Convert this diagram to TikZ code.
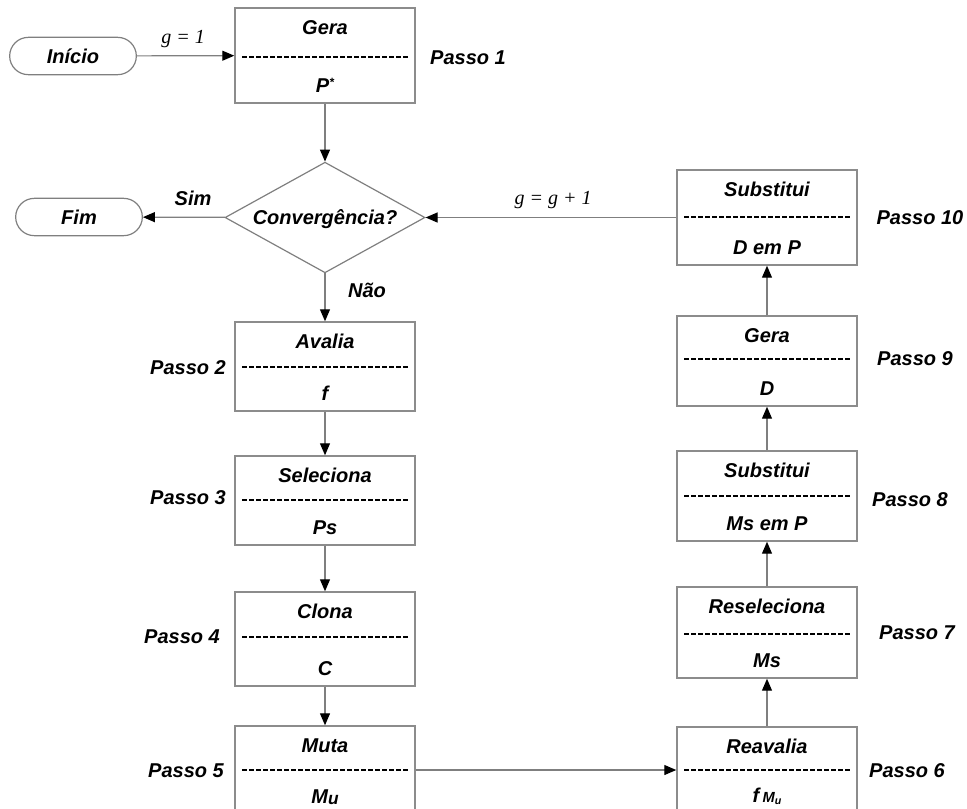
\documentclass[tikz,border=0pt]{standalone}
\usepackage{fontspec}
\setmainfont{Liberation Sans}
\newfontfamily\gserif{Liberation Serif}
\usetikzlibrary{arrows.meta,shapes.geometric}
\definecolor{linegray}{HTML}{7F7F7F}
\definecolor{boxgray}{HTML}{8C8C8C}
\tikzset{
 txt/.style={font=\fontsize{15}{17}\selectfont\bfseries\itshape, text=black, inner sep=0pt, text height=10.7pt, text depth=0pt},
 gtxt/.style={font=\fontsize{15}{17}\selectfont\gserif\itshape, text=black, inner sep=0pt, text height=7pt, text depth=0pt},
 box/.style={draw=boxgray, line width=1.1pt, minimum width=135pt, inner sep=0pt},
 term/.style={draw=linegray, line width=0.9pt, rounded corners=14pt, minimum width=95pt, minimum height=28pt, inner sep=0pt},
 dec/.style={draw=linegray, line width=0.9pt, shape=diamond, minimum width=150pt, minimum height=83pt, inner sep=0pt},
 conn/.style={draw=linegray, line width=0.9pt, -{Triangle[length=9pt,width=7.5pt,color=black]}},
 dashline/.style={line width=2.2pt, dash pattern=on 3.75pt off 1.5pt},
}
% name, cx, ytop, ybot, dash y, title, body
\newcommand\flowbox[7]{%
 \node[box, minimum height={(#4-#3)*0.75pt}] (#1) at (#2,{(#3+#4)/2}) {};
 \node[txt] (#1t) at (#2,#3+19) {#6};
 \draw[dashline] (#2-83,#5) -- (#2+83,#5);
 \node[txt] (#1b) at (#2,#4-18) {#7};
}
\begin{document}
\begin{tikzpicture}[x=0.75pt,y=-0.75pt]
\clip (0,0) rectangle (967,808);
% terminals
\node[term] (ini) at (73,56) {};
\node[txt] (inil) at (73,56) {Início};
\node[term] (fim) at (79,217) {};
\node[txt] (fiml) at (79,217) {Fim};
% decision
\node[dec] (conv) at (325,217.5) {};
\node[txt] (convl) at (325,217) {Convergência?};
% left column
\flowbox{gera}{325}{8}{103}{57}{Gera}{P\raisebox{4pt}{\fontsize{9}{9}\selectfont *}}
\flowbox{aval}{325}{322}{411}{367}{Avalia}{f}
\flowbox{sele}{325}{456}{545}{500}{Seleciona}{Ps}
\flowbox{clon}{325}{592}{686}{637}{Clona}{C}
\flowbox{muta}{325}{726}{814}{770}{Muta}{M\raisebox{-1pt}{\fontsize{13}{13}\selectfont u}}
% right column
\flowbox{reav}{767}{727}{813}{770}{Reavalia}{f\,{\fontsize{11}{11}\selectfont M\raisebox{-1.5pt}{\fontsize{8}{8}\selectfont u}}}
\flowbox{rese}{767}{587}{678}{634}{Reseleciona}{Ms}
\flowbox{subm}{767}{451}{541}{496}{Substitui}{Ms em P}
\flowbox{gerd}{767}{316}{406}{359}{Gera}{D}
\flowbox{subd}{767}{170}{265}{217}{Substitui}{D em P}
% step labels
\node[txt] (p1) at (468,57) {Passo 1};
\node[txt] (p2) at (188,367) {Passo 2};
\node[txt] (p3) at (188,497) {Passo 3};
\node[txt] (p4) at (182,636) {Passo 4};
\node[txt] (p5) at (186,770) {Passo 5};
\node[txt] (p6) at (907,770) {Passo 6};
\node[txt] (p7) at (917,632) {Passo 7};
\node[txt] (p8) at (910,499) {Passo 8};
\node[txt] (p9) at (915,358) {Passo 9};
\node[txt] (p10) at (920,217) {Passo 10};
% connector labels
\node[gtxt] (g1) at (183,39) {g = 1};
\node[gtxt] (g2) at (553,200) {g = g + 1};
\node[txt] (sim) at (193,198) {Sim};
\node[txt] (nao) at (367,290) {Não};
% connectors
\draw[conn] (ini) -- (gera);
\draw[conn] (gera) -- (conv);
\draw[conn] (conv) -- (fim);
\draw[conn] (conv) -- (aval);
\draw[conn] (aval) -- (sele);
\draw[conn] (sele) -- (clon);
\draw[conn] (clon) -- (muta);
\draw[conn] (muta) -- (reav);
\draw[conn] (reav) -- (rese);
\draw[conn] (rese) -- (subm);
\draw[conn] (subm) -- (gerd);
\draw[conn] (gerd) -- (subd);
\draw[conn] (subd) -- (conv);
\end{tikzpicture}
\end{document}
